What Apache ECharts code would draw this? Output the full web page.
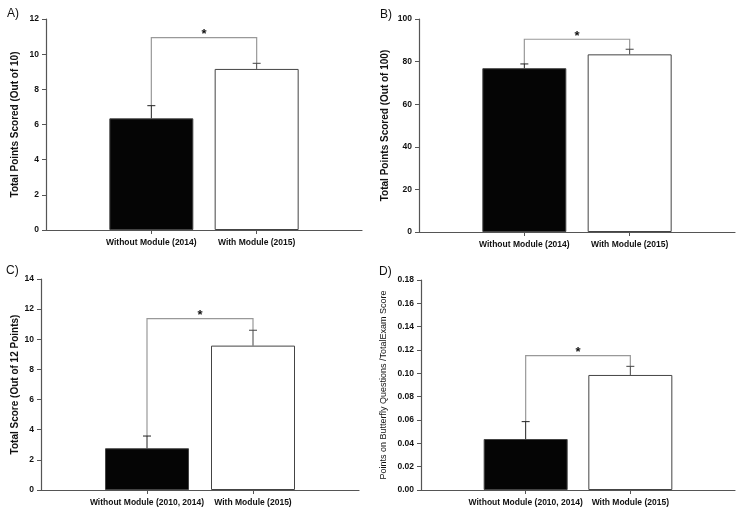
<!DOCTYPE html>
<html><head><meta charset="utf-8">
<script src="https://cdn.jsdelivr.net/npm/echarts@6/dist/echarts.min.js"></script>
<style>html,body{margin:0;padding:0;background:#fff}#c{width:746px;height:514px}</style>
</head><body><div id="c"></div>
<script>
// ---- data ----
const catsAB = ['Without Module (2014)', 'With Module (2015)'];
const catsCD = ['Without Module (2010, 2014)', 'With Module (2015)'];

const meanA = [6.35, 9.16];
const seA = [0.72, 0.32];
const sigA = 10.94;

const meanB = [76.9, 83.4];
const seB = [2.0, 2.4];
const sigB = 90.5;

const meanC = [2.77, 9.58];
const seC = [0.81, 1.02];
const sigC = 11.37;

const meanD = [0.0437, 0.0986];
const seD = [0.0149, 0.0074];
const sigD = 0.1152;

const yMaxes = [12, 100, 14, 0.18];
const yIntervals = [2, 20, 2, 0.02];
const yTitles = [
  'Total Points Scored (Out of 10)',
  'Total Points Scored (Out of 100)',
  'Total Score (Out of 12 Points)',
  'Points on Butterfly Questions /TotalExam Score'
];
const letters = ['A)', 'B)', 'C)', 'D)'];

// ---- layout ----
const FONT = '"Liberation Sans", Arial, sans-serif';
const panels = [
  {cats: catsAB, mean: meanA, se: seA, sig: sigA, grid: {left: 46, top: 19, width: 316, height: 211}, nameGap: 26, nameSize: 10, nameWeight: 'bold', dec: 0, letterPos: [7, 8]},
  {cats: catsAB, mean: meanB, se: seB, sig: sigB, grid: {left: 419, top: 19, width: 316, height: 213}, nameGap: 29, nameSize: 10, nameWeight: 'bold', dec: 0, letterPos: [380, 9]},
  {cats: catsCD, mean: meanC, se: seC, sig: sigC, grid: {left: 41, top: 279, width: 318, height: 211}, nameGap: 21, nameSize: 10, nameWeight: 'bold', dec: 0, letterPos: [6, 265]},
  {cats: catsCD, mean: meanD, se: seD, sig: sigD, grid: {left: 421, top: 280, width: 314, height: 210}, nameGap: 33, nameSize: 9, nameWeight: 'normal', dec: 2, letterPos: [379, 266]}
];

const AXIS_COLOR = '#555';
const grids = [], xAxes = [], yAxes = [], series = [], graphics = [];

panels.forEach((p, k) => {
  grids.push(Object.assign({containLabel: false}, p.grid));
  xAxes.push({
    type: 'value', gridIndex: k, min: 0, max: 3, interval: 1,
    axisLine: {show: true, onZero: false, lineStyle: {color: AXIS_COLOR, width: 1.2}},
    axisTick: {show: true, length: 4, customValues: [1, 2], lineStyle: {color: AXIS_COLOR}},
    axisLabel: {customValues: [1, 2], formatter: v => p.cats[Math.round(v) - 1] || '',
      fontFamily: FONT, fontWeight: 'bold', fontSize: 8.5, color: '#111', margin: 8},
    splitLine: {show: false}
  });
  yAxes.push({
    type: 'value', gridIndex: k, min: 0, max: yMaxes[k], interval: yIntervals[k],
    name: yTitles[k], nameLocation: 'middle', nameRotate: 90, nameGap: p.nameGap,
    nameTextStyle: {fontFamily: FONT, fontWeight: p.nameWeight, fontSize: p.nameSize, color: '#111'},
    axisLine: {show: true, lineStyle: {color: AXIS_COLOR, width: 1.2}},
    axisTick: {show: true, length: 4, lineStyle: {color: AXIS_COLOR}},
    axisLabel: {fontFamily: FONT, fontWeight: 'bold', fontSize: 8.5, color: '#111', margin: 7,
      formatter: v => v.toFixed(p.dec)},
    splitLine: {show: false}
  });
  // bars
  series.push({
    type: 'bar', xAxisIndex: k, yAxisIndex: k, barWidth: 84,
    data: p.mean.map((m, i) => ({value: [i + 1, m], itemStyle: {color: i === 0 ? '#050505' : '#fff', borderColor: '#444', borderWidth: 1}})),
    silent: true, animation: false
  });
  // error bars
  series.push({
    type: 'custom', xAxisIndex: k, yAxisIndex: k, z: 5, animation: false, silent: true,
    data: p.mean.map((m, i) => [i + 1, m, p.se[i]]),
    renderItem: (params, api) => {
      const x = api.value(0), m = api.value(1), s = api.value(2);
      const p0 = api.coord([x, m]), p1 = api.coord([x, m + s]);
      const col = params.dataIndex === 0 ? '#222' : '#444';
      return {type: 'group', children: [
        {type: 'line', shape: {x1: p0[0], y1: p0[1], x2: p1[0], y2: p1[1]}, style: {stroke: col, lineWidth: 1}},
        {type: 'line', shape: {x1: p1[0] - 4, y1: p1[1], x2: p1[0] + 4, y2: p1[1]}, style: {stroke: col, lineWidth: 1}}
      ]};
    }
  });
  // significance bracket
  series.push({
    type: 'custom', xAxisIndex: k, yAxisIndex: k, z: 4, animation: false, silent: true,
    data: [[1, p.mean[0] + p.se[0], 2, p.mean[1] + p.se[1], p.sig]],
    renderItem: (params, api) => {
      const a = api.coord([api.value(0), api.value(1)]);
      const b = api.coord([api.value(2), api.value(3)]);
      const la = api.coord([api.value(0), api.value(4)]);
      const lb = api.coord([api.value(2), api.value(4)]);
      return {type: 'group', children: [
        {type: 'polyline', shape: {points: [a, la, lb, b]}, style: {stroke: '#999', lineWidth: 1.2, fill: null}},
        {type: 'text', x: (la[0] + lb[0]) / 2, y: la[1] - 3,
          style: {text: '*', fontFamily: FONT, fontWeight: 'bold', fontSize: 13, fill: '#111', align: 'center', verticalAlign: 'middle'}}
      ]};
    }
  });
  graphics.push({type: 'text', left: p.letterPos[0], top: p.letterPos[1],
    style: {text: letters[k], fontFamily: FONT, fontSize: 12, fill: '#111'}});
});

const chart = echarts.init(document.getElementById('c'), null, {renderer: 'canvas'});
chart.setOption({
  backgroundColor: '#fff', animation: false,
  grid: grids, xAxis: xAxes, yAxis: yAxes, series: series, graphic: graphics
});
</script>
</body></html>
